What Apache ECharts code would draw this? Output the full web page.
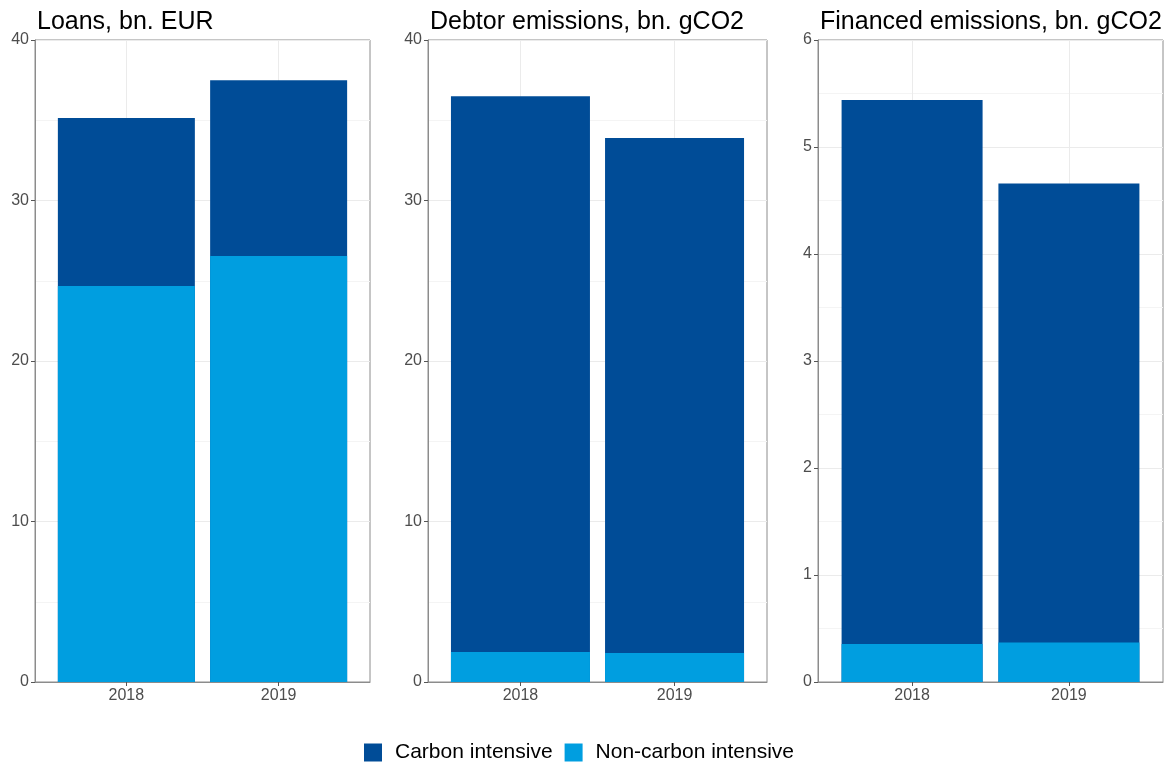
<!DOCTYPE html>
<html lang="en">
    <head>
        <meta charset="UTF-8" />
        <title>Loans and emissions</title>
        <script src="https://cdn.jsdelivr.net/npm/echarts@6.0.0/dist/echarts.min.js"></script>
    </head>
    <body style="margin: 0; background: #fff">
        <!-- Chart container -->
        <div id="main" style="width: 1173px; height: 765px"></div>

        <script>
            // Data
            const years = ["2018", "2019"];
            const titles = ["Loans, bn. EUR", "Debtor emissions, bn. gCO2", "Financed emissions, bn. gCO2"];
            const carbon = [
                [10.47, 10.96],
                [34.63, 32.09],
                [5.085, 4.29]
            ];
            const nonCarbon = [
                [24.67, 26.54],
                [1.87, 1.81],
                [0.355, 0.37]
            ];
            const yMax = [40, 40, 6];
            const yStep = [10, 10, 1];

            const dark = "#004c97";
            const light = "#009ee0";
            const font = "Liberation Sans";

            // panel boxes in pixels
            const panels = [
                { left: 35, width: 335 },
                { left: 428, width: 339 },
                { left: 818, width: 345 }
            ];
            const panelTop = 40;
            const panelHeight = 642;
            const yearPos = years.map((y, i) => i + 1);

            let myChart = echarts.init(document.getElementById("main"));

            let grids = [];
            let xAxes = [];
            let yAxes = [];
            let series = [];
            let titleList = [];

            panels.forEach((p, k) => {
                grids.push({
                    left: p.left,
                    top: panelTop,
                    width: p.width,
                    height: panelHeight,
                    show: true,
                    borderColor: "#8c8c8c",
                    borderWidth: 1,
                    backgroundColor: "#fff"
                });
                titleList.push({
                    text: titles[k],
                    left: p.left - 3,
                    top: 5,
                    textStyle: { fontFamily: font, fontSize: 25, fontWeight: "normal", color: "#000" }
                });
                xAxes.push({
                    gridIndex: k,
                    type: "value",
                    min: 0.4,
                    max: 2.6,
                    axisLine: { show: true, lineStyle: { color: "#8c8c8c" } },
                    axisTick: { show: true, length: 4, customValues: yearPos, lineStyle: { color: "#555" } },
                    axisLabel: {
                        customValues: yearPos,
                        formatter: (v) => years[Math.round(v) - 1],
                        fontFamily: font,
                        fontSize: 16,
                        color: "#4d4d4d",
                        margin: 6
                    },
                    splitLine: { show: true, lineStyle: { color: "#ebebeb" } }
                });
                yAxes.push({
                    gridIndex: k,
                    type: "value",
                    min: 0,
                    max: yMax[k],
                    interval: yStep[k],
                    axisLine: { show: true, lineStyle: { color: "#8c8c8c" } },
                    axisTick: { show: true, length: 4, lineStyle: { color: "#555" } },
                    axisLabel: { fontFamily: font, fontSize: 16, color: "#4d4d4d", margin: 6 },
                    splitLine: { show: true, lineStyle: { color: "#ebebeb" } },
                    minorTick: { show: false, splitNumber: 2 },
                    minorSplitLine: { show: true, lineStyle: { color: "#f4f4f4" } }
                });
                const bw = Math.round((0.9 / 2.2) * p.width);
                // stacked look: total bar (carbon on top) drawn first, non-carbon drawn over its base
                series.push({
                    name: "Carbon intensive",
                    type: "bar",
                    xAxisIndex: k,
                    yAxisIndex: k,
                    barWidth: bw,
                    barGap: "-100%",
                    itemStyle: { color: dark },
                    data: carbon[k].map((v, i) => [yearPos[i], v + nonCarbon[k][i]])
                });
                series.push({
                    name: "Non-carbon intensive",
                    type: "bar",
                    xAxisIndex: k,
                    yAxisIndex: k,
                    barWidth: bw,
                    barGap: "-100%",
                    itemStyle: { color: light },
                    data: nonCarbon[k].map((v, i) => [yearPos[i], v])
                });
            });

            let options = {
                animation: false,
                backgroundColor: "#fff",
                color: [dark, light],
                title: titleList,
                legend: {
                    data: ["Carbon intensive", "Non-carbon intensive"],
                    left: 359,
                    top: 737,
                    icon: "rect",
                    itemWidth: 18,
                    itemHeight: 18,
                    itemGap: 12,
                    textStyle: { fontFamily: font, fontSize: 21, color: "#000", padding: [0, 0, 0, 8] }
                },
                grid: grids,
                xAxis: xAxes,
                yAxis: yAxes,
                series: series
            };

            myChart.setOption(options);
        </script>
    </body>
</html>
